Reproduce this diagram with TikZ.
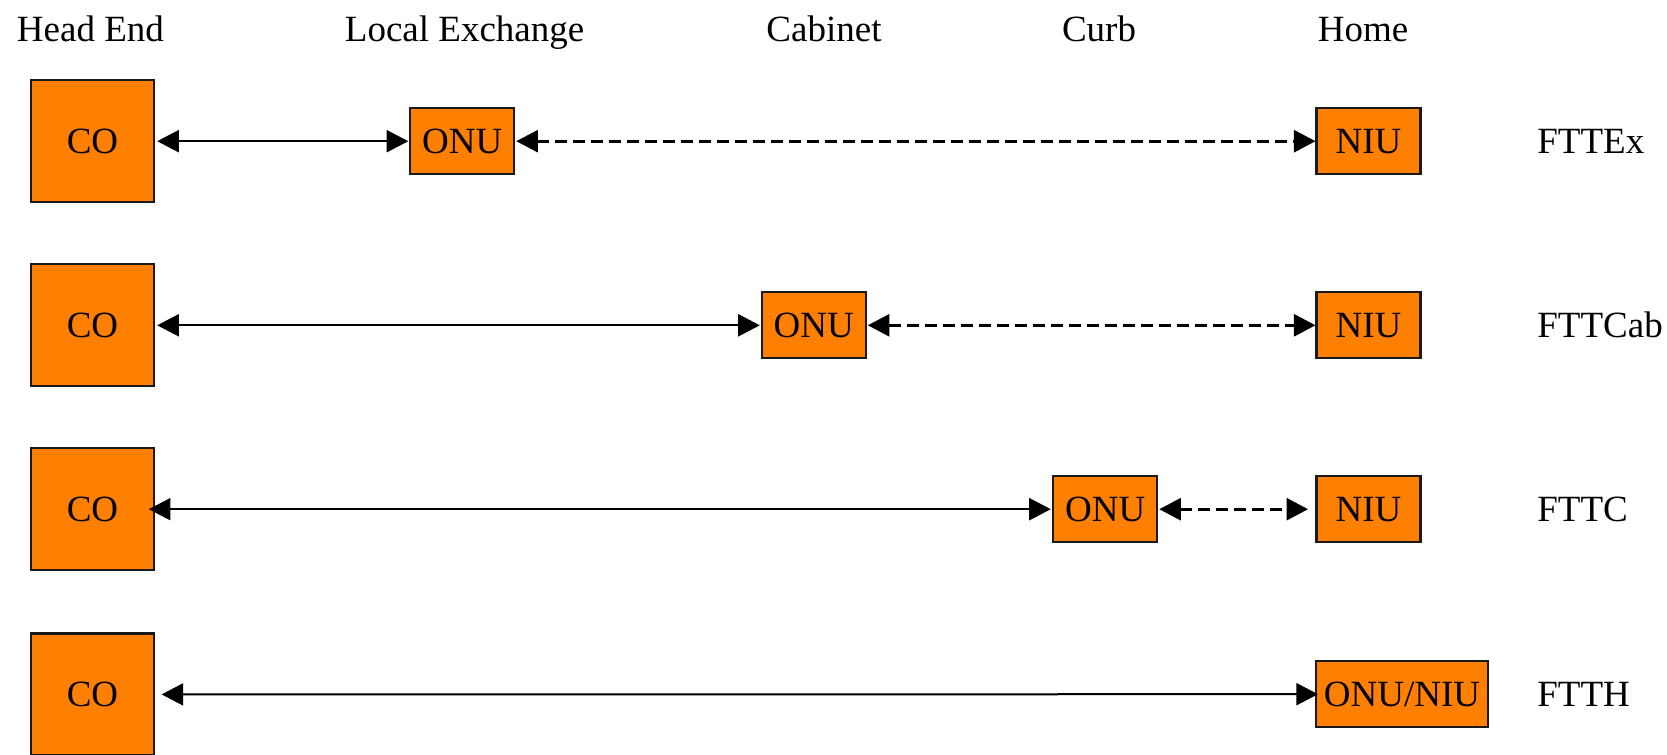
\documentclass[tikz,border=0pt]{standalone}
\usepackage{fontspec}
\setmainfont{Liberation Serif}
\usetikzlibrary{arrows.meta}
\definecolor{boxorange}{RGB}{255,128,0}
\definecolor{boxedge}{RGB}{25,25,25}
\begin{document}
\begin{tikzpicture}[x=0.5pt,y=-0.5pt,
  txt/.style={font=\fontsize{18.5}{22}\selectfont},
  unit/.style={txt, draw=boxedge, line width=1.1pt, fill=boxorange,
    inner sep=0pt, outer sep=0pt},
  cobox/.style={unit, minimum width=61.7pt, minimum height=61pt},
  onubox/.style={unit, minimum width=52pt, minimum height=33pt},
  widebox/.style={unit, minimum width=86pt, minimum height=33pt},
  hdr/.style={txt, anchor=base, inner sep=0pt},
  tag/.style={txt, anchor=base west, inner sep=0pt},
  link/.style={line width=1pt, {Triangle[length=10.8pt,width=11pt]}-{Triangle[length=10.8pt,width=11pt]}},
  dlink/.style={link, line width=1.4pt, dash pattern=on 6pt off 3pt},
]
\useasboundingbox (0,0) rectangle (1667,755);

% column headings
\node[hdr] (hHead) at (90.4,41) {Head End};
\node[hdr] (hLex)  at (464.6,41) {Local Exchange};
\node[hdr] (hCab)  at (824,41) {Cabinet};
\node[hdr] (hCurb) at (1099,41) {Curb};
\node[hdr] (hHome) at (1363,41) {Home};

% FTTEx
\node[cobox]  (co1)  at (92.5,141.2) {CO};
\node[onubox] (onu1) at (462.3,141.2) {ONU};
\node[onubox] (niu1) at (1368.5,141.2) {NIU};
\node[tag] (t1) at (1537,153.5) {FTTEx};
\draw[link, shorten <=1.5pt, shorten >=1pt] (co1.east) -- (onu1.west);
\draw[dlink, shorten <=1pt, shorten >=0.5pt] (onu1.east) -- (niu1.west);

% FTTCab
\node[cobox]  (co2)  at (92.5,325.3) {CO};
\node[onubox] (onu2) at (813.8,325.3) {ONU};
\node[onubox] (niu2) at (1368.5,325.3) {NIU};
\node[tag] (t2) at (1537,337.6) {FTTCab};
\draw[link, shorten <=1.5pt, shorten >=1pt] (co2.east) -- (onu2.west);
\draw[dlink, shorten <=1pt, shorten >=0.5pt] (onu2.east) -- (niu2.west);

% FTTC
\node[cobox]  (co3)  at (92.5,509.2) {CO};
\node[onubox] (onu3) at (1105.3,509.2) {ONU};
\node[onubox] (niu3) at (1368.5,509.2) {NIU};
\node[tag] (t3) at (1537,521.5) {FTTC};
\draw[link, shorten <=-2.7pt, shorten >=1.25pt] (co3.east) -- (onu3.west);
\draw[dlink, shorten <=1pt, shorten >=4.2pt] (onu3.east) -- (niu3.west);

% FTTH
\node[cobox]  (co4)  at (92.5,694.4) {CO};
\node[widebox] (ont4) at (1402,694.2) {ONU/NIU};
\node[tag] (t4) at (1537,706.5) {FTTH};
\draw[link, shorten <=3.7pt, shorten >=-1pt] (co4.east) -- (ont4.west);
\end{tikzpicture}
\end{document}
